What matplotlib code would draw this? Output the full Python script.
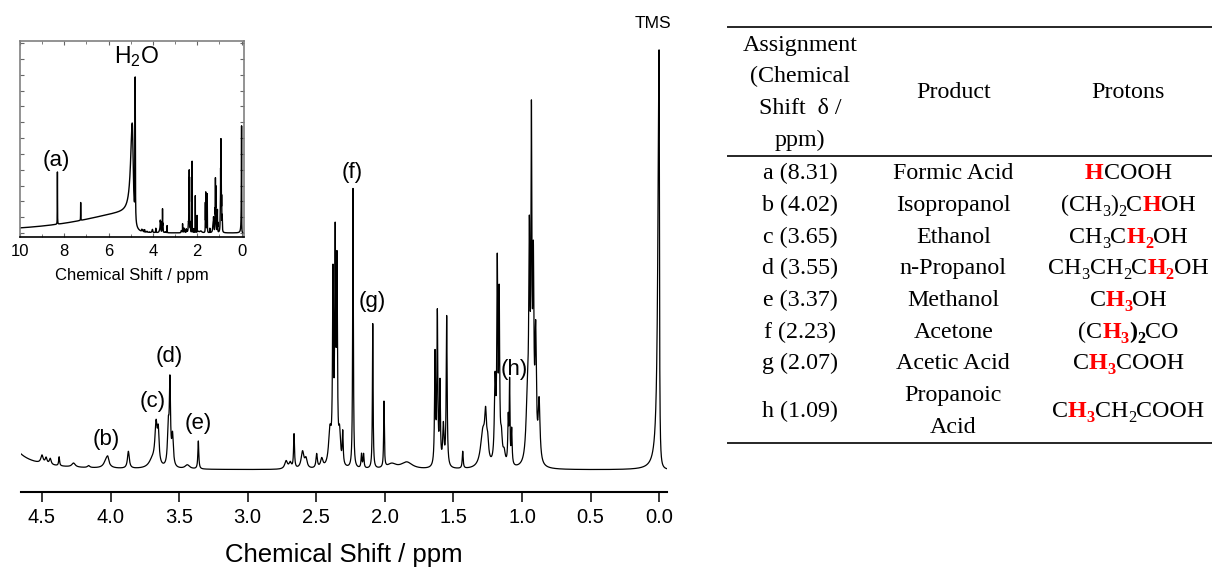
import numpy as np
import matplotlib.pyplot as plt
from matplotlib.ticker import MultipleLocator

plt.rcParams['font.family'] = ['Liberation Sans', 'DejaVu Sans']
plt.rcParams['mathtext.fontset'] = 'custom'
plt.rcParams['mathtext.rm'] = 'Liberation Sans'
plt.rcParams['mathtext.it'] = 'Liberation Sans:italic'
plt.rcParams['mathtext.bf'] = 'Liberation Sans:bold'

# 1H NMR lines: shift (ppm), height, half width (ppm)
line_ppm = [8.31, 7.26,
            4.50, 4.47, 4.44, 4.375, 4.27, 4.16, 4.03, 4.02, 3.87,
            3.695, 3.668, 3.652, 3.579, 3.567, 3.548, 3.44, 3.36,
            2.72, 2.69, 2.662, 2.60, 2.575, 2.497, 2.46, 2.40,
            2.378, 2.362, 2.349, 2.33, 2.307, 2.232, 2.17, 2.155,
            2.088, 2.006, 1.95, 1.84,
            1.634, 1.617, 1.598, 1.573, 1.549, 1.432,
            1.285, 1.265, 1.25, 1.196, 1.18, 1.166, 1.15, 1.13,
            1.10, 1.09, 1.075,
            0.96, 0.946, 0.931, 0.917, 0.90, 0.875]
line_height = [205, 70,
               8, 6, 6, 9, 4, 2, 9, 5, 17,
               8, 40, 30, 38, 80, 30, 4, 28,
               8, 6, 34, 17, 9, 14, 9, 35,
               180, 215, 190, 30, 32, 280, 14, 14,
               145, 66, 5, 7,
               110, 150, 80, 40, 150, 17,
               35, 40, 18, 80, 190, 160, 25, 12,
               45, 80, 35,
               60, 200, 315, 180, 120, 60]
line_width = [0.004, 0.004,
              0.010, 0.008, 0.008, 0.004, 0.015, 0.010, 0.020, 0.008, 0.008,
              0.030, 0.010, 0.007, 0.007, 0.005, 0.007, 0.020, 0.004,
              0.012, 0.010, 0.004, 0.012, 0.010, 0.006, 0.010, 0.012,
              0.004, 0.004, 0.004, 0.008, 0.004, 0.003, 0.004, 0.004,
              0.003, 0.003, 0.040, 0.050,
              0.004, 0.004, 0.004, 0.006, 0.004, 0.004,
              0.020, 0.008, 0.008, 0.006, 0.004, 0.004, 0.008, 0.010,
              0.004, 0.003, 0.004,
              0.012, 0.005, 0.004, 0.005, 0.006, 0.008]

# lopsided lines (water hump, water spike, TMS): downfield / upfield half widths
skew_ppm = [4.95, 4.93, 4.80, 0.0]
skew_height = [80, 355, 555, 420]
skew_wdown = [2.9, 0.09, 0.008, 0.010]
skew_wup = [0.06, 0.05, 0.008, 0.003]

# peak letters: text, shift, height
tag_text = ['(b)', '(c)', '(d)', '(e)', '(f)', '(g)', '(h)']
tag_ppm = [4.028, 3.696, 3.572, 3.36, 2.237, 2.088, 1.058]
tag_y = [30, 68, 113, 46, 297, 168, 100]

# table
assign = ['a (8.31)', 'b (4.02)', 'c (3.65)', 'd (3.55)', 'e (3.37)',
          'f (2.23)', 'g (2.07)', 'h (1.09)']
product = ['Formic Acid', 'Isopropanol', 'Ethanol', 'n-Propanol', 'Methanol',
           'Acetone', 'Acetic Acid', 'Propanoic\nAcid']
# n = plain, r = red bold, b = black bold; "_" puts the next digit low
protons = [[('H', 'r'), ('COOH', 'n')],
           [('(CH_3)_2C', 'n'), ('H', 'r'), ('OH', 'n')],
           [('CH_3C', 'n'), ('H_2', 'r'), ('OH', 'n')],
           [('CH_3CH_2C', 'n'), ('H_2', 'r'), ('OH', 'n')],
           [('C', 'n'), ('H_3', 'r'), ('OH', 'n')],
           [('(C', 'n'), ('H_3', 'r'), (')_2', 'b'), ('CO', 'n')],
           [('C', 'n'), ('H_3', 'r'), ('COOH', 'n')],
           [('C', 'n'), ('H_3', 'r'), ('CH_2COOH', 'n')]]
header1 = ['Assignment', '(Chemical', 'Shift  δ /', 'ppm)']


def lorentz(x, c, h, wd, wu):
    w = np.where(x > c, wd, wu)
    return h / (1 + ((x - c) / w) ** 2)


def runs(s):
    # split 'CH_3C' into [('CH', False), ('3', True), ('C', False)]
    out, i = [], 0
    while i < len(s):
        if s[i] == '_':
            out.append((s[i + 1], True))
            i += 2
        else:
            if out and not out[-1][1]:
                out[-1] = (out[-1][0] + s[i], False)
            else:
                out.append((s[i], False))
            i += 1
    return out


shift = np.linspace(10.2, -0.2, 42000)
spec = np.zeros_like(shift)
for c, h, w in zip(line_ppm, line_height, line_width):
    spec += lorentz(shift, c, h, w, w)
for c, h, wd, wu in zip(skew_ppm, skew_height, skew_wdown, skew_wup):
    spec += lorentz(shift, c, h, wd, wu)

fig = plt.figure(figsize=(12.12, 5.70), dpi=100)

# main spectrum
ax = fig.add_axes([0.01733, 0.1374, 0.5328, 0.8451])
ax.plot(shift, spec, color='black', lw=0.9)
ax.set_xlim(4.653, -0.056)
ax.set_ylim(-21.7, 460)
for s in ['left', 'right', 'top']:
    ax.spines[s].set_visible(False)
ax.spines['bottom'].set_linewidth(1.5)
ax.set_yticks([])
ax.xaxis.set_major_locator(MultipleLocator(0.5))
ax.tick_params(axis='x', direction='out', length=7, width=1.1,
               labelsize=14.5, pad=5)
ax.set_xlabel('Chemical Shift / ppm', fontsize=18.5, labelpad=11)
for t, x, y in zip(tag_text, tag_ppm, tag_y):
    ax.text(x, y, t, ha='center', va='center', fontsize=16)
ax.text(0.045, 446, 'TMS', ha='center', va='center', fontsize=12.5)

# full range inset
ins = fig.add_axes([0.0161, 0.5837, 0.1856, 0.3449])
ins.plot(shift, spec, color='black', lw=1.0)
ins.set_xlim(10.02, -0.13)
ins.set_ylim(-16.9, 754)
ins.xaxis.set_major_locator(MultipleLocator(2))
ins.xaxis.set_minor_locator(MultipleLocator(1))
ins.yaxis.set_major_locator(MultipleLocator(62))
ins.tick_params(axis='x', which='both', direction='in', top=True,
                labelsize=12, pad=5, color='0.4')
ins.tick_params(axis='y', which='both', direction='in', right=True,
                labelleft=False, color='0.4')
ins.tick_params(which='major', length=3)
ins.tick_params(which='minor', length=2)
for s in ['left', 'right', 'top']:
    ins.spines[s].set_color('0.5')
    ins.spines[s].set_linewidth(1.2)
ins.spines['bottom'].set_linewidth(1.2)
ins.set_xlabel('Chemical Shift / ppm', fontsize=12, labelpad=6)
ins.text(8.345, 286, '(a)', ha='center', va='center', fontsize=16)
ins.text(4.74, 691, r'H$_2$O', ha='center', va='center', fontsize=16.5)

# table in pixel coordinates
tab = fig.add_axes([0, 0, 1, 1])
tab.set_xlim(0, 1212)
tab.set_ylim(570, 0)
tab.axis('off')
fs = 17.3
serif = ['Liberation Serif', 'DejaVu Serif']
col_x = [800, 953.3, 1128.3]
row0, step, base = 171.7, 31.7, 7.5

for yr in [27.3, 155.7, 443.3]:
    tab.plot([728, 1212], [yr, yr], color='0.15', lw=1.4)

for k, s in enumerate(header1):
    tab.text(col_x[0], 43.3 + step * k + base, s, family=serif, fontsize=fs,
             ha='center', va='baseline')
tab.text(col_x[1], 90 + base, 'Product', family=serif, fontsize=fs,
         ha='center', va='baseline')
tab.text(col_x[2], 90 + base, 'Protons', family=serif, fontsize=fs,
         ha='center', va='baseline')

renderer = fig.canvas.get_renderer()
for i in range(len(assign)):
    yc = row0 + step * (i if i < 7 else 7.5)
    tab.text(col_x[0], yc + base, assign[i], family=serif, fontsize=fs,
             ha='center', va='baseline')
    lines = product[i].split('\n')
    for j, s in enumerate(lines):
        yl = yc + step * (j - (len(lines) - 1) / 2)
        tab.text(col_x[1], yl + base, s, family=serif, fontsize=fs,
                 ha='center', va='baseline')
    # formula pieces, laid out left to right then centred
    pieces = []
    for s, st in protons[i]:
        for txt, sub in runs(s):
            p = tab.text(0, yc + base + (5 if sub else 0), txt, family=serif,
                         fontsize=fs * 0.68 if sub else fs,
                         fontweight='normal' if st == 'n' else 'bold',
                         color='red' if st == 'r' else 'black',
                         ha='left', va='baseline')
            pieces.append(p)
    widths = [p.get_window_extent(renderer).width for p in pieces]
    x = col_x[2] - sum(widths) / 2
    for p, w in zip(pieces, widths):
        p.set_x(x)
        x += w

fig.savefig('out.png', dpi=100)
